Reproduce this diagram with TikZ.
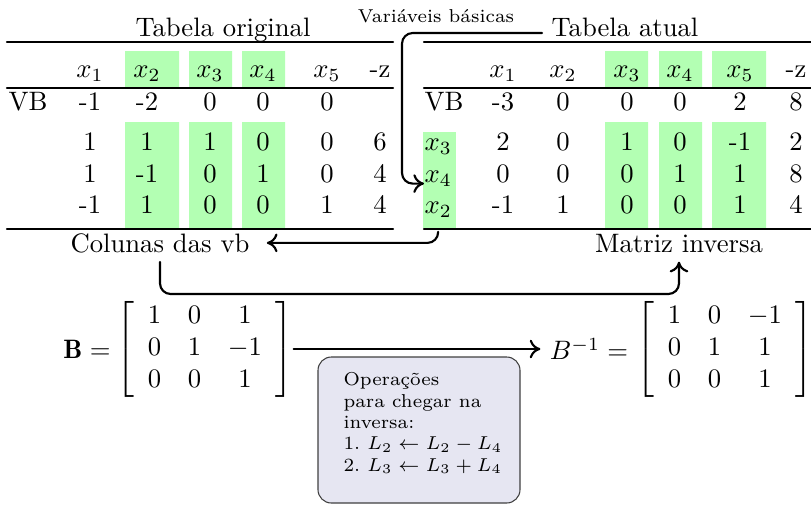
\documentclass[tikz,border=0pt]{standalone}
\usepackage{fontspec}
\usepackage{amsmath}
\usetikzlibrary{arrows.meta}
\definecolor{vbgreen}{RGB}{179,255,179}
\definecolor{opfill}{RGB}{230,230,242}
\begin{document}
\begin{tikzpicture}[x=0.375pt,y=-0.375pt,line cap=round,line join=round,>={To[length=4pt,width=7pt]},
  cell/.style={anchor=base},
  lab/.style={anchor=base west,inner xsep=0pt},
  rule/.style={line width=0.85pt},
  hl/.style={fill=vbgreen},
  arr/.style={->,thick,rounded corners},
  opbox/.style={draw=black!75,fill=opfill,rounded corners=5pt}]
\useasboundingbox (0,0) rectangle (811,505);
% colunas das vb
\fill[hl] (125,51) rectangle (179,88) (125,122) rectangle (179,229);
\fill[hl] (189,51) rectangle (232,88) (189,122) rectangle (232,229);
\fill[hl] (242,51) rectangle (285,88) (242,122) rectangle (285,229);
\fill[hl] (605,51) rectangle (648,88) (605,122) rectangle (648,229);
\fill[hl] (659,51) rectangle (702,88) (659,122) rectangle (702,229);
\fill[hl] (712,51) rectangle (766,88) (712,122) rectangle (766,229);
\fill[hl] (423,132) rectangle (456,228);
% tabela original
\node[cell] (torig) at (223,36) {Tabela original};
\draw[rule] (7,42)--(393,42) (7,88)--(393,88) (7,229)--(393,229);
\node[lab] (o0-0) at (8,110) {VB};
\foreach \x/\ra/\rb/\rc/\rd [count=\k] in {90/-1/1/1/-1,147/-2/1/-1/1,210/0/1/0/0,263/0/0/1/0,327/0/0/0/1}{
  \node[cell] (oh\k) at (\x,77) {$x_\k$};
  \node[cell] (o\k-0) at (\x,110) {\ra};
  \node[cell] (o\k-1) at (\x,150) {\rb};
  \node[cell] (o\k-2) at (\x,182) {\rc};
  \node[cell] (o\k-3) at (\x,213) {\rd};
}
\node[cell] (oh6) at (380,77) {-z};
\node[cell] (o6-1) at (380,150) {6};
\node[cell] (o6-2) at (380,182) {4};
\node[cell] (o6-3) at (380,213) {4};
% tabela atual
\node[cell] (tatual) at (625,36) {Tabela atual};
\draw[rule] (424,42)--(811,42) (424,88)--(811,88) (424,229)--(811,229);
\node[lab] (a0-0) at (424,110) {VB};
\node[lab] (a0-1) at (424,150) {$x_3$};
\node[lab] (a0-2) at (424,182) {$x_4$};
\node[lab] (a0-3) at (424,213) {$x_2$};
\foreach \x/\ra/\rb/\rc/\rd [count=\k] in {503/-3/2/0/-1,563/0/0/0/1,627/0/1/0/0,680/0/0/1/0,740/2/-1/1/1,796/8/2/8/4}{
  \node[cell] (a\k-0) at (\x,110) {\ra};
  \node[cell] (a\k-1) at (\x,150) {\rb};
  \node[cell] (a\k-2) at (\x,182) {\rc};
  \node[cell] (a\k-3) at (\x,213) {\rd};
}
\foreach \x [count=\k] in {503,563,627,680,740}
  \node[cell] (ah\k) at (\x,77) {$x_\k$};
\node[cell] (ah6) at (796,77) {-z};
% setas
\node[cell,font=\scriptsize] (vbtxt) at (436,22) {Variáveis básicas};
\coordinate (vbend) at (542,33);
\draw[arr] (vbend) -- (402,33) |- ([yshift=-2pt]a0-2.west);
\node[cell] (colunas) at (160,252) {Colunas das vb};
\node[cell] (inversa) at (679,252) {Matriz inversa};
\draw[arr] ([yshift=-2pt]a0-3.south) |- ([xshift=3pt]colunas.east);
\draw[arr] (colunas.south) -- ++(0,32) -| (inversa.south);
% matrizes
\node (eqB) at (87,349) {$\mathbf{B} =$};
\node[inner sep=0pt] (matB) at (205,349) {$\setlength\arraycolsep{5pt}\left[\begin{array}{ccc}1&0&1\\0&1&-1\\0&0&1\end{array}\right]$};
\node (eqBinv) at (589,349) {$B^{-1} =$};
\node[inner sep=0pt] (matBinv) at (725,349) {$\setlength\arraycolsep{5pt}\left[\begin{array}{ccc}1&0&-1\\0&1&1\\0&0&1\end{array}\right]$};
\draw[arr] (matB.east) -- (eqBinv.west);
% operacoes
\draw[opbox] (318,357) rectangle (520,503);
\node[anchor=north west,align=left,font=\fontsize{7}{8}\selectfont,inner sep=0pt] (ops) at (343,372)
  {Operações\\para chegar na\\inversa:\\1.~$L_2 \leftarrow L_2 - L_4$\\2.~$L_3 \leftarrow L_3 + L_4$};
\end{tikzpicture}
\end{document}
